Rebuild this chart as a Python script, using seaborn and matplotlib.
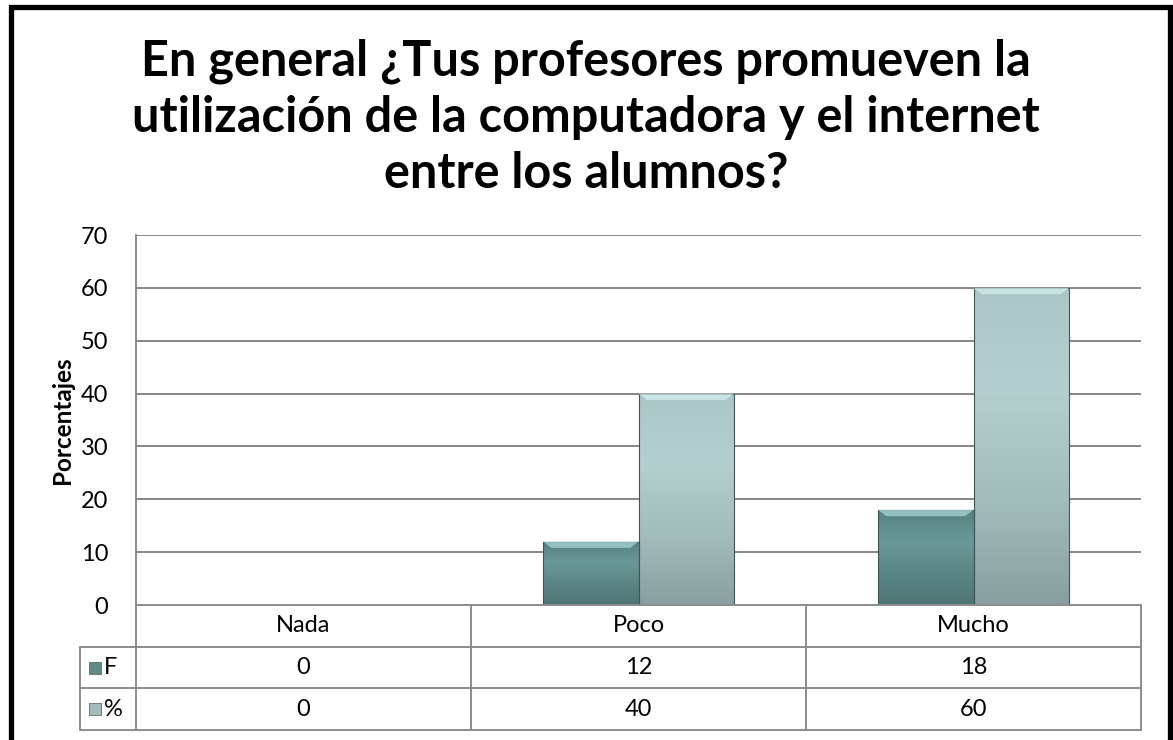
import matplotlib
matplotlib.use('Agg')
import matplotlib.pyplot as plt
import matplotlib.transforms as mtransforms
from matplotlib.colors import LinearSegmentedColormap
from matplotlib.patches import Rectangle, Polygon
import seaborn as sns
import numpy as np
import pandas as pd

# data
categories = ['Nada', 'Poco', 'Mucho']
series = ['F', '%']
freq = [0, 12, 18]
pct = [0, 40, 60]

title = 'En general ¿Tus profesores promueven la\nutilización de la computadora y el internet\nentre los alumnos?'

df = pd.DataFrame({
    'cat': categories * 2,
    'serie': ['F'] * 3 + ['%'] * 3,
    'valor': freq + pct,
})

sns.set_style('white')
plt.rcParams['font.family'] = ['Lato', 'DejaVu Sans']
plt.rcParams['text.color'] = 'black'
plt.rcParams['ytick.color'] = 'black'

W, H = 1173, 740
fig = plt.figure(figsize=(W / 100, H / 100), dpi=100)
ax = fig.add_axes([136 / W, (H - 605) / H, (1141 - 136) / W, (605 - 235) / H])

sns.barplot(data=df, x='cat', y='valor', hue='serie', order=categories,
            hue_order=series, width=0.57, legend=False, ax=ax,
            palette=['#5f8a8a', '#a3bbbb'], edgecolor='#3f5556', linewidth=0.8,
            saturation=1)

grads = {
    'F': (['#558080', '#6a9898', '#5b8585', '#4f7575'], '#a8d6d5'),
    '%': (['#aac6c6', '#b4cfcf', '#a3bcbc', '#8aa0a0'], '#d6eeee'),
}
for serie, cont in zip(series, ax.containers):
    cols, bevel = grads[serie]
    cmap = LinearSegmentedColormap.from_list('g' + serie, cols[::-1])
    for bar in cont:
        x0, y0 = bar.get_x(), bar.get_y()
        w, h = bar.get_width(), bar.get_height()
        if h <= 0:
            continue
        grad = np.linspace(0, 1, 100).reshape(-1, 1)
        im = ax.imshow(grad, extent=[x0, x0 + w, y0, y0 + h], origin='lower',
                       aspect='auto', cmap=cmap, zorder=bar.get_zorder() - 0.01)
        im.set_clip_path(bar)
        bar.set_facecolor('none')
        # bevel on top edge, slanted corners like the office style
        dx, dy = 0.025, 1.2
        top = y0 + h
        ax.add_patch(Polygon([(x0, top), (x0 + w, top), (x0 + w - dx, top - dy),
                              (x0 + dx, top - dy)], closed=True,
                             facecolor=bevel, edgecolor='none', alpha=0.75,
                             zorder=bar.get_zorder()))

ax.set_xlim(-0.5, 2.5)
ax.set_ylim(0, 70)
ax.set_yticks(range(0, 71, 10))
ax.tick_params(axis='y', labelsize=17, length=0, pad=20, labelcolor='black')
ax.set_xticks([])
ax.set_xlabel('')
ax.set_ylabel('')
ax.grid(axis='y', color='#868686', linewidth=1.4)
ax.set_axisbelow(True)
for s in ['top', 'right', 'bottom']:
    ax.spines[s].set_visible(False)
ax.spines['left'].set_color('#8c8c8c')
ax.spines['left'].set_linewidth(1.4)

# data table below the axes
gc = '#8c8c8c'
trans = mtransforms.blended_transform_factory(ax.transData, ax.transAxes)


def ya(py):
    return (605 - py) / 370


row_edges = [605, 647, 688, 730]
lab_left = (80 - 136) / (1141 - 136)
ax.plot([0, 1], [ya(605)] * 2, transform=ax.transAxes, color=gc, lw=1.4, clip_on=False)
for py in row_edges[1:]:
    ax.plot([lab_left, 1], [ya(py)] * 2, transform=ax.transAxes, color=gc, lw=1.4, clip_on=False)
for xb in [-0.5, 0.5, 1.5, 2.5]:
    ax.plot([xb, xb], [ya(605), ya(730)], transform=trans, color=gc, lw=1.4, clip_on=False)
ax.plot([lab_left] * 2, [ya(647), ya(730)], transform=ax.transAxes, color=gc, lw=1.4, clip_on=False)

for i, c in enumerate(categories):
    ax.text(i, ya(626), c, transform=trans, ha='center', va='center', fontsize=17)
    ax.text(i, ya(667.5), str(freq[i]), transform=trans, ha='center', va='center', fontsize=17)
    ax.text(i, ya(709), str(pct[i]), transform=trans, ha='center', va='center', fontsize=17)

key_cols = ['#5f8a8a', '#a3bbbb']
for serie, py, kc in zip(series, [667.5, 709], key_cols):
    fig.patches.append(Rectangle((89 / W, (H - py - 6) / H), 12 / W, 12 / H,
                                 facecolor=kc, edgecolor='#607070', lw=0.6,
                                 transform=fig.transFigure))
    fig.text(104 / W, (H - py) / H, serie, ha='left', va='center', fontsize=17)

fig.text(63 / W, (H - 420) / H, 'Porcentajes', rotation=90, ha='center',
         va='center', fontsize=17.5, fontweight='bold')

fig.text(586 / W, 1 - 38 / H, title, ha='center', va='top', fontsize=35,
         fontweight='bold', linespacing=1.3)

# outer chart frame
fig.patches.append(Rectangle((10.5 / W, -0.05), (1170 - 10.5) / W, 1.05 - 7.5 / H,
                             fill=False, edgecolor='black', lw=3.8,
                             transform=fig.transFigure))

fig.savefig('out.png', dpi=100, facecolor='white')
